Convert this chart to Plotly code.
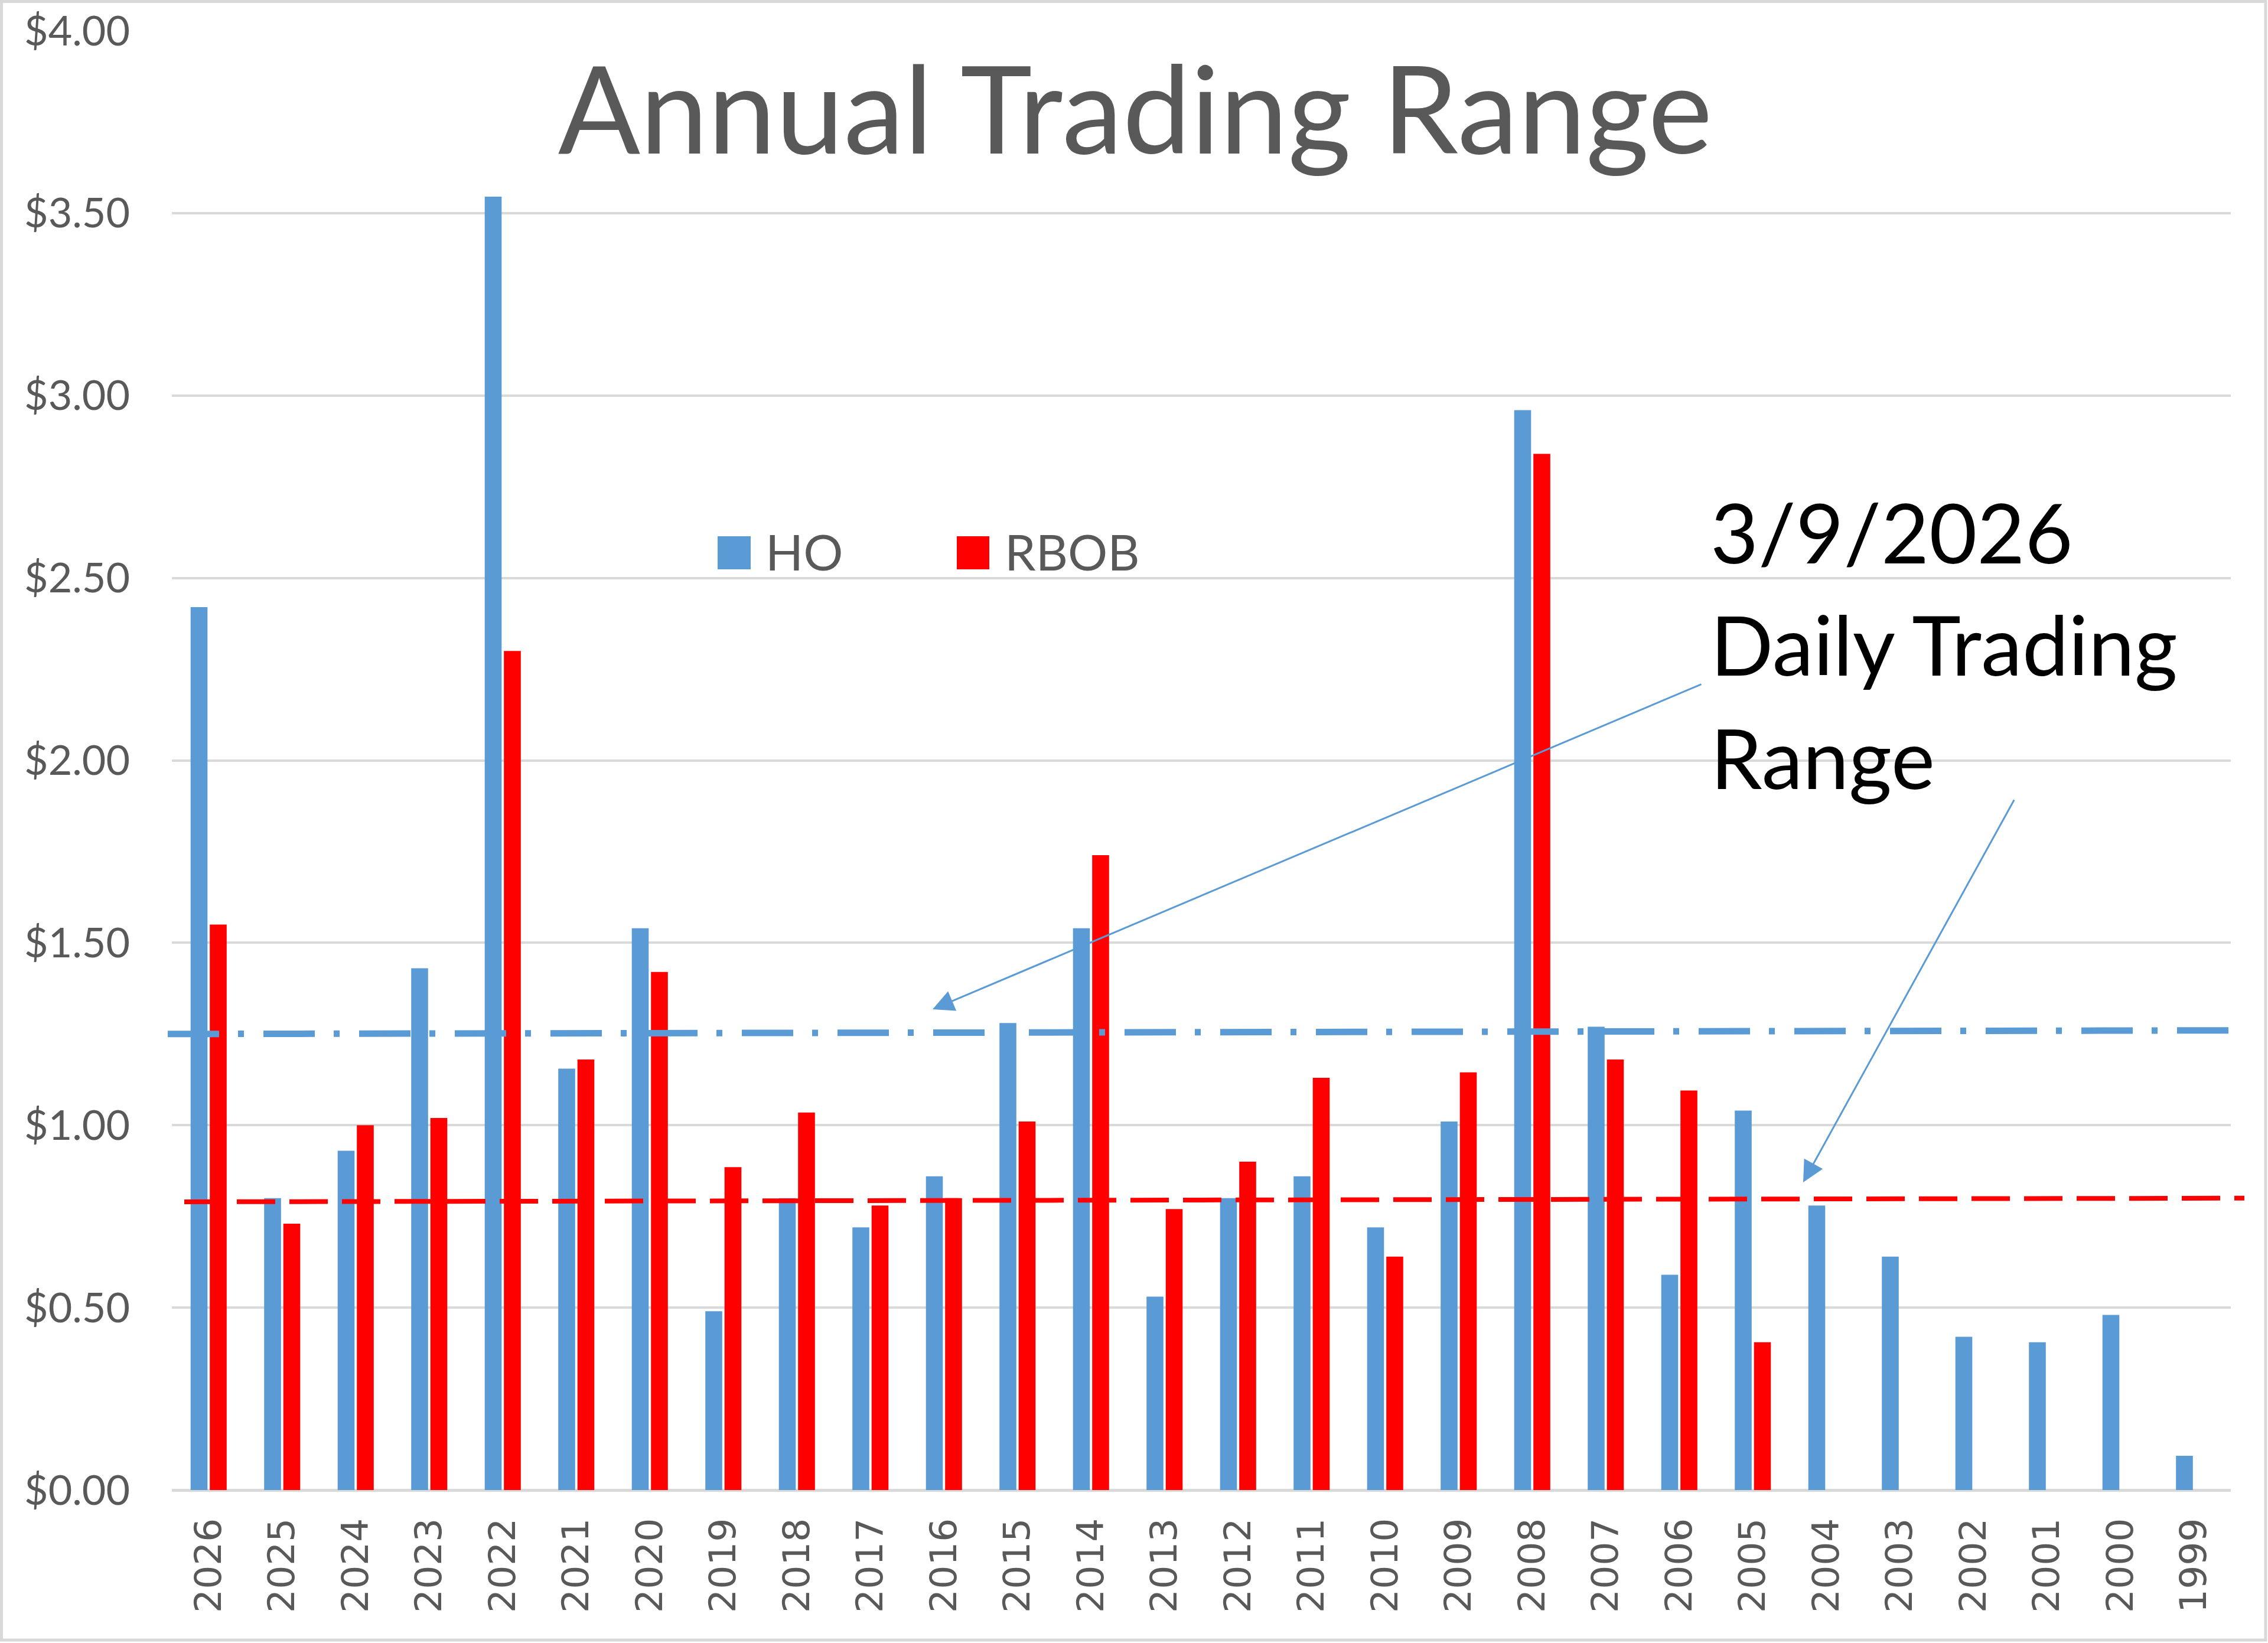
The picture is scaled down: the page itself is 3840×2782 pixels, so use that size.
import plotly.graph_objects as go

# ---------------- data ----------------
years = ["2026", "2025", "2024", "2023", "2022", "2021", "2020", "2019", "2018", "2017",
         "2016", "2015", "2014", "2013", "2012", "2011", "2010", "2009", "2008", "2007",
         "2006", "2005", "2004", "2003", "2002", "2001", "2000", "1999"]
ho_range = [2.42, 0.80, 0.93, 1.43, 3.545, 1.155, 1.54, 0.49, 0.80, 0.72,
            0.86, 1.28, 1.54, 0.53, 0.80, 0.86, 0.72, 1.01, 2.96, 1.27,
            0.59, 1.04, 0.78, 0.64, 0.42, 0.405, 0.48, 0.094]
rbob_range = [1.55, 0.73, 1.00, 1.02, 2.30, 1.18, 1.42, 0.885, 1.035, 0.78,
              0.80, 1.01, 1.74, 0.77, 0.90, 1.13, 0.64, 1.145, 2.84, 1.18,
              1.095, 0.405, None, None, None, None, None, None]
# daily trading range reference lines (start, end)
ho_daily = [1.25, 1.26]
rbob_daily = [0.79, 0.80]

series_names = ["HO", "RBOB"]
y_ticks = [0, 0.5, 1.0, 1.5, 2.0, 2.5, 3.0, 3.5, 4.0]
title_text = "Annual Trading Range"
note_lines = ["3/9/2026", "Daily Trading", "Range"]

# ---------------- styling ----------------
HO_COLOR = "#5B9BD5"
RBOB_COLOR = "#FF0000"
GRID = "#D9D9D9"
TXT = "#595959"
FONT = "Lato"

W, H = 3840, 2782
L, R, T, B = 291, 63, 52, 259
PW, PH = W - L - R, H - T - B


def px_x(px):
    return (px - L) / PW


def px_y(py):
    return (H - B - py) / PH


fig = go.Figure()
fig.add_trace(go.Bar(x=years, y=ho_range, name=series_names[0],
                     marker=dict(color=HO_COLOR, line=dict(width=0)), showlegend=False))
fig.add_trace(go.Bar(x=years, y=rbob_range, name=series_names[1],
                     marker=dict(color=RBOB_COLOR, line=dict(width=0)), showlegend=False))

shapes = []
# daily range lines
shapes.append(dict(type="line", xref="paper", yref="y",
                   x0=px_x(284), x1=px_x(3805), y0=ho_daily[0], y1=ho_daily[1],
                   line=dict(color=HO_COLOR, width=11, dash="87px,32px,10px,33px")))
shapes.append(dict(type="line", xref="paper", yref="y",
                   x0=px_x(312), x1=px_x(3800), y0=rbob_daily[0], y1=rbob_daily[1],
                   line=dict(color=RBOB_COLOR, width=8, dash="65px,24px")))
# legend swatches
shapes.append(dict(type="rect", xref="paper", yref="paper",
                   x0=px_x(1215), x1=px_x(1271), y0=px_y(964), y1=px_y(908),
                   fillcolor=HO_COLOR, line=dict(width=0)))
shapes.append(dict(type="rect", xref="paper", yref="paper",
                   x0=px_x(1620), x1=px_x(1675), y0=px_y(964), y1=px_y(908),
                   fillcolor=RBOB_COLOR, line=dict(width=0)))
# chart border
shapes.append(dict(type="rect", xref="paper", yref="paper",
                   x0=px_x(2.5), x1=px_x(3836), y0=px_y(2777), y1=px_y(2.5),
                   line=dict(color=GRID, width=5), fillcolor="rgba(0,0,0,0)", layer="below"))

annotations = []
# legend labels
annotations.append(dict(text=series_names[0], xref="paper", yref="paper",
                        x=px_x(1294), y=px_y(934), xanchor="left", yanchor="middle",
                        showarrow=False, font=dict(family=FONT, size=84, color=TXT)))
annotations.append(dict(text=series_names[1], xref="paper", yref="paper",
                        x=px_x(1699), y=px_y(934), xanchor="left", yanchor="middle",
                        showarrow=False, font=dict(family=FONT, size=84, color=TXT)))
# note text
for line_txt, cy in zip(note_lines, [900, 1090, 1282]):
    annotations.append(dict(text=line_txt, xref="paper", yref="paper",
                            x=px_x(2894), y=px_y(cy), xanchor="left", yanchor="middle",
                            showarrow=False, font=dict(family=FONT, size=140, color="#000000")))
# arrows
annotations.append(dict(text="", xref="paper", yref="paper",
                        x=px_x(1579), y=px_y(1709), ax=2882 - 1579, ay=1158 - 1709,
                        showarrow=True, arrowhead=2, arrowsize=2.4, arrowwidth=3,
                        arrowcolor=HO_COLOR, standoff=0))
annotations.append(dict(text="", xref="paper", yref="paper",
                        x=px_x(3053), y=px_y(2002), ax=3411 - 3053, ay=1353 - 2002,
                        showarrow=True, arrowhead=2, arrowsize=2.4, arrowwidth=3,
                        arrowcolor=HO_COLOR, standoff=0))

fig.update_layout(
    width=W, height=H,
    margin=dict(l=L, r=R, t=T, b=B, autoexpand=False),
    paper_bgcolor="white", plot_bgcolor="white",
    barmode="group", bargap=0.478, bargroupgap=0.12,
    font=dict(family=FONT, color=TXT),
    title=dict(text=title_text, x=1922 / W, xanchor="center", xref="container",
               y=1 - 187.5 / H, yanchor="middle", yref="container",
               font=dict(family=FONT, size=206, color=TXT)),
    shapes=shapes, annotations=annotations,
    xaxis=dict(type="category", showgrid=False, showline=False, zeroline=False,
               ticks="", tickangle=-90, ticklabelstandoff=34,
               tickfont=dict(family="DejaVu Sans", size=63, color=TXT)),
    yaxis=dict(range=[0, 4], tickvals=y_ticks, tickformat="$.2f",
               showgrid=True, gridcolor=GRID, gridwidth=4,
               zeroline=True, zerolinecolor=GRID, zerolinewidth=5,
               showline=False, ticks="", ticklabelstandoff=70,
               tickfont=dict(family=FONT, size=70, color=TXT)),
)

fig.write_html("out.html", config={"displayModeBar": False},
               post_script="document.body.style.margin='0px';")
